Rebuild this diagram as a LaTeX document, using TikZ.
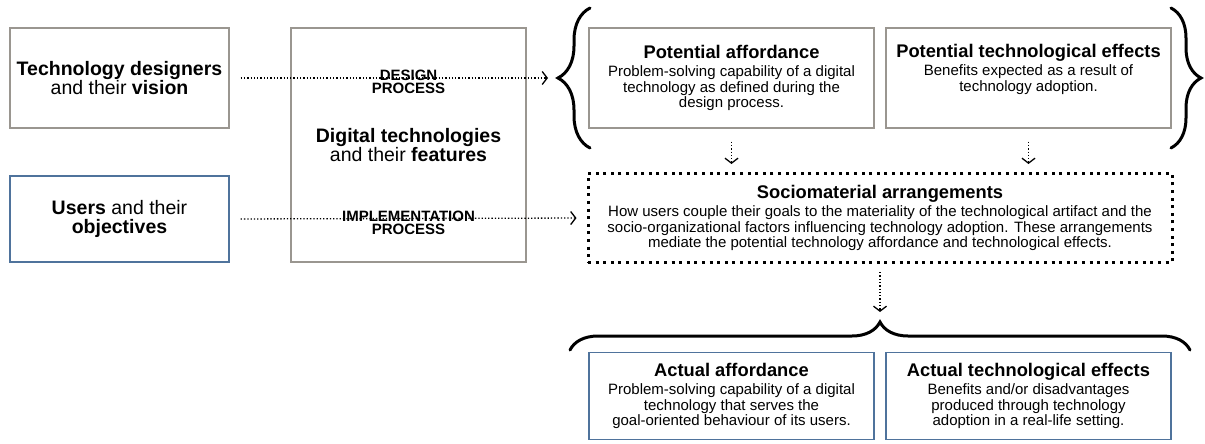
\documentclass[tikz,border=0pt]{standalone}
\usepackage{fontspec}
\setmainfont{Liberation Sans}
\usetikzlibrary{arrows.meta,decorations.pathreplacing}
\definecolor{framegray}{HTML}{9A9690}
\definecolor{frameblue}{HTML}{4F739C}
\newcommand\bigfont{\fontsize{19.5}{19.5}\selectfont}
\newcommand\headfont{\fontsize{18.3}{19}\selectfont\bfseries}
\newcommand\smallfont{\fontsize{15}{15.6}\selectfont}
\newcommand\procfont{\fontsize{15}{13.5}\selectfont\bfseries}
\tikzset{
  actor/.style={draw=framegray,line width=1.3pt,align=center,inner sep=0pt,font=\bigfont},
  stage/.style={draw=framegray,line width=1.3pt,align=center,inner sep=0pt,font=\smallfont,
    minimum width=285,minimum height=100},
  realstage/.style={stage,draw=frameblue},
  flow/.style={dotted,line width=1.3pt,-{Straight Barb[length=5pt,width=13pt,line width=1.3pt]}},
  curly/.style={decorate,decoration={brace,amplitude=#1},line width=3pt,line cap=round}
}
\begin{document}
\begin{tikzpicture}[x=1pt,y=-1pt]
\useasboundingbox (0,0) rectangle (1205,444);
% left column: who shapes the technology
\node[actor,minimum width=219,minimum height=100] (designers) at (119.5,78)
  {\textbf{Technology designers}\\and their \textbf{vision}};
\node[actor,draw=frameblue,minimum width=219,minimum height=86] (users) at (119.5,219)
  {\textbf{Users} and their\\\textbf{objectives}};
\node[actor,minimum width=235,minimum height=234] (tech) at (408.5,145)
  {\textbf{Digital technologies}\\and their \textbf{features}};
% potential side
\node[stage] (potaff) at (731.5,78) {{\headfont Potential affordance}\\[3pt]
  Problem-solving capability of a digital\\technology as defined during the\\design process.};
\node[stage] (poteff) at (1028.5,78) {{\headfont Potential technological effects}\\[3pt]
  Benefits expected as a result of\\technology adoption.\\\strut};
\draw[curly=32] (590,148) -- (590,8) coordinate[midway,xshift=-32] (ltip);
\draw[curly=30] (1171,8) -- (1171,148);
% mediating arrangements
\node[stage,draw=black,line width=3pt,dash pattern=on 3pt off 4.6pt,minimum width=584,minimum height=89]
  (socio) at (880,218) {{\headfont Sociomaterial arrangements}\\[3pt]
  How users couple their goals to the materiality of the technological artifact and the\\
  socio-organizational factors influencing technology adoption. These arrangements\\
  mediate the potential technology affordance and technological effects.};
% actual side
\draw[curly=28] (570,350) -- (1190,350);
\coordinate (btip) at (880,322);
\node[realstage,minimum height=87] (actaff) at (731.5,396) {{\headfont Actual affordance}\\[3pt]
  Problem-solving capability of a digital\\technology that serves the\\goal-oriented behaviour of its users.};
\node[realstage,minimum height=87] (acteff) at (1028.5,396) {{\headfont Actual technological effects}\\[3pt]
  Benefits and/or disadvantages\\produced through technology\\adoption in a real-life setting.};
% processes
\draw[flow,shorten <=11pt,shorten >=10pt] (designers.east) -- (ltip);
\draw[flow,shorten <=11pt,shorten >=10pt] (users.east) -- (socio.west);
\node[font=\procfont,align=center] (design) at (tech.center |- 0,82) {DESIGN\\PROCESS};
\node[font=\procfont,align=center] (implement) at (tech.center |- 0,223) {IMPLEMENTATION\\PROCESS};
\draw[flow,shorten <=13pt,shorten >=8pt] (potaff.south) -- (potaff.south |- socio.north);
\draw[flow,shorten <=13pt,shorten >=8pt] (poteff.south) -- (poteff.south |- socio.north);
\draw[flow,shorten <=8pt,shorten >=10pt] (socio.south) -- (btip);
\end{tikzpicture}
\end{document}
